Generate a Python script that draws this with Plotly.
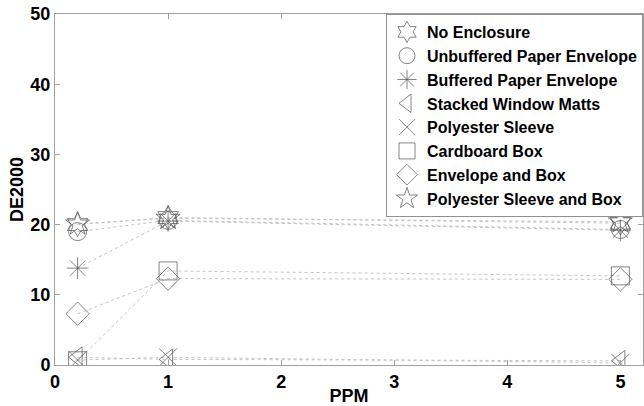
import plotly.graph_objects as go

ppm = [0.2, 1, 5]
series_names = [
    "No Enclosure",
    "Unbuffered Paper Envelope",
    "Buffered Paper Envelope",
    "Stacked Window Matts",
    "Polyester Sleeve",
    "Cardboard Box",
    "Envelope and Box",
    "Polyester Sleeve and Box",
]
no_enclosure = [20.0, 21.0, 20.2]
unbuffered_env = [19.0, 20.6, 19.3]
buffered_env = [13.8, 20.5, 19.2]
stacked_matts = [1.1, 0.8, 0.6]
polyester_sleeve = [0.7, 1.1, 0.3]
cardboard_box = [0.6, 13.4, 12.7]
envelope_box = [7.3, 12.3, 12.2]
polyester_box = [20.1, 20.9, 20.4]
x_ticks = [0, 1, 2, 3, 4, 5]
y_ticks = [0, 10, 20, 30, 40, 50]

values = [no_enclosure, unbuffered_env, buffered_env, stacked_matts,
          polyester_sleeve, cardboard_box, envelope_box, polyester_box]
symbols = ["hexagram-open", "circle-open", "asterisk-open", "triangle-left-open",
           "x-thin-open", "square-open", "diamond-open", "star-open"]

FONT = "Liberation Sans, Arial, sans-serif"

fig = go.Figure()
for name, vals in zip(series_names, values):
    fig.add_trace(go.Scatter(x=ppm, y=vals, mode="lines", showlegend=False,
                             line=dict(color="#c4c4c4", width=1, dash="dot"),
                             hoverinfo="skip"))
for name, vals, sym in zip(series_names, values, symbols):
    fig.add_trace(go.Scatter(x=ppm, y=vals, mode="markers", name="<b>%s</b>" % name,
                             marker=dict(symbol=sym, size=18, color="#505050",
                                         line=dict(color="#505050", width=0.7))))

axis_common = dict(showline=True, linecolor="#a0a0a0", linewidth=1, mirror="ticks",
                   ticks="inside", ticklen=5, tickcolor="#a0a0a0", showgrid=False,
                   zeroline=False,
                   tickfont=dict(family=FONT, size=18, color="black"))
fig.update_xaxes(range=[0, 5.2], tickvals=x_ticks,
                 ticktext=["<b>%d</b>" % v for v in x_ticks], **axis_common,
                 title=dict(text="<b>PPM</b>", standoff=0,
                            font=dict(family=FONT, size=18, color="black")))
fig.update_yaxes(range=[0, 50], tickvals=y_ticks,
                 ticktext=["<b>%d</b>" % v for v in y_ticks], **axis_common,
                 title=dict(text="<b>DE2000</b>", standoff=2,
                            font=dict(family=FONT, size=18, color="black")))

fig.update_layout(
    width=644, height=406,
    margin=dict(l=55, r=1, t=14, b=41),
    paper_bgcolor="white", plot_bgcolor="white",
    legend=dict(x=1, xanchor="right", y=1, yanchor="top",
                bordercolor="#909090", borderwidth=1, bgcolor="white",
                font=dict(family=FONT, size=16, color="black"),
                tracegroupgap=0, itemwidth=30),
)
fig.write_html("out.html")
